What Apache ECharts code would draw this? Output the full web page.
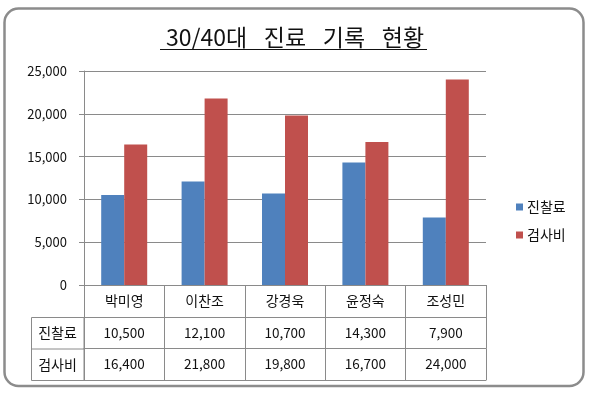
<!DOCTYPE html>
<html>
<head>
<meta charset="utf-8">
<script src="https://cdn.jsdelivr.net/npm/echarts@6/dist/echarts.min.js"></script>
<style>html,body{margin:0;padding:0;background:#fff;}#c{width:590px;height:393px;}</style>
</head>
<body>
<div id="c"></div>
<script>
var titleText = '30/40대\u2002 진료\u2002 기록\u2002 현황';
var categories = ['박미영', '이찬조', '강경욱', '윤정숙', '조성민'];
var seriesNames = ['진찰료', '검사비'];
var fees = [10500, 12100, 10700, 14300, 7900];
var tests = [16400, 21800, 19800, 16700, 24000];
var yTicks = [0, 5000, 10000, 15000, 20000, 25000];

var FONT = '"Noto Sans CJK KR", "Noto Sans", sans-serif';
var LINE = '#8a8a8a';
function fmt(v) { return v.toLocaleString('en-US'); }

var chart = echarts.init(document.getElementById('c'));

var gridL = 84, gridR = 486, gridT = 71, gridB = 285;
var rowTops = [285, 317, 348.5, 380];

function tableAxis(data, offset, len, showLabel, fontSize) {
  return {
    type: 'category', data: data, position: 'bottom', offset: offset,
    axisLine: { show: true, lineStyle: { color: LINE, width: 1 } },
    axisTick: { show: len > 0, length: len, interval: 0, lineStyle: { color: LINE } },
    axisLabel: { show: showLabel, interval: 0, margin: 9, color: '#111', fontSize: fontSize, fontFamily: FONT },
    splitLine: { show: false }
  };
}

chart.setOption({
  backgroundColor: '#fff',
  animation: false,
  title: {
    text: titleText, left: 'center', top: 21,
    textStyle: { fontFamily: FONT, fontSize: 23, fontWeight: 'normal', color: '#111' }
  },
  legend: {
    orient: 'vertical', left: 511, top: 195,
    itemWidth: 7, itemHeight: 7, itemGap: 14, icon: 'rect',
    textStyle: { fontFamily: FONT, fontSize: 14, color: '#111', padding: [0, 0, 0, -1] },
    data: seriesNames
  },
  grid: { left: gridL, right: 590 - gridR, top: gridT, bottom: 393 - gridB, containLabel: false },
  xAxis: [
    tableAxis(categories, 0, rowTops[1] - rowTops[0], true, 14),
    tableAxis(fees.map(fmt), rowTops[1] - rowTops[0], rowTops[2] - rowTops[1], true, 13.5),
    tableAxis(tests.map(fmt), rowTops[2] - rowTops[0], rowTops[3] - rowTops[2], true, 13.5),
    tableAxis(categories, rowTops[3] - rowTops[0], 0, false, 14)
  ],
  yAxis: {
    type: 'value', min: yTicks[0], max: yTicks[yTicks.length - 1], interval: yTicks[1] - yTicks[0],
    axisLine: { show: true, lineStyle: { color: LINE } },
    axisTick: { show: true, length: 5, lineStyle: { color: LINE } },
    axisLabel: { margin: 17, color: '#111', fontSize: 13, fontFamily: FONT, formatter: function (v) { return fmt(v); } },
    splitLine: { show: true, lineStyle: { color: LINE, width: 1 } }
  },
  series: [
    { name: seriesNames[0], type: 'bar', data: fees, barWidth: 23, barGap: '0%', itemStyle: { color: '#4F81BD' } },
    { name: seriesNames[1], type: 'bar', data: tests, barWidth: 23, barGap: '0%', itemStyle: { color: '#C0504D' } }
  ],
  graphic: [
    { type: 'rect', shape: { x: 4.5, y: 8.5, width: 579, height: 377.5, r: 14 }, style: { fill: 'none', stroke: '#8c8c8c', lineWidth: 2.5 }, z: 10 },
    { type: 'line', shape: { x1: 160, y1: 49.5, x2: 427, y2: 49.5 }, style: { stroke: '#111', lineWidth: 1 } },
    { type: 'rect', shape: { x: 31.5, y: rowTops[1] + 0.5, width: gridL - 31.5, height: rowTops[3] - rowTops[1] }, style: { fill: 'none', stroke: LINE, lineWidth: 1 } },
    { type: 'line', shape: { x1: 31.5, y1: rowTops[2] + 0.5, x2: gridL, y2: rowTops[2] + 0.5 }, style: { stroke: LINE, lineWidth: 1 } },
    { type: 'text', x: (31 + gridL) / 2, y: (rowTops[1] + rowTops[2]) / 2, style: { text: seriesNames[0], font: '14px ' + FONT, fill: '#111', align: 'center', verticalAlign: 'middle' } },
    { type: 'text', x: (31 + gridL) / 2, y: (rowTops[2] + rowTops[3]) / 2, style: { text: seriesNames[1], font: '14px ' + FONT, fill: '#111', align: 'center', verticalAlign: 'middle' } }
  ]
});
</script>
</body>
</html>
